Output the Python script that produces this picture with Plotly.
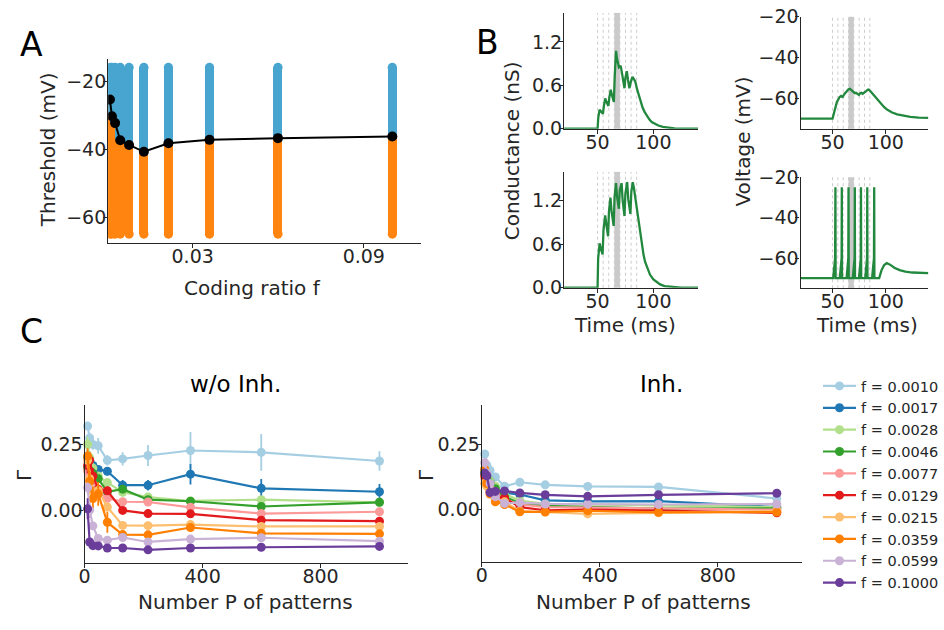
import plotly.graph_objects as go

W, H = 944, 630

# ---------------- Panel A data ----------------
f_values = [0.0010, 0.0017, 0.0028, 0.0046, 0.0077, 0.0129, 0.0215, 0.0359, 0.0599, 0.1000]
thresholds = [-25.4, -30.3, -32.3, -37.3, -38.7, -40.7, -38.2, -37.2, -36.7, -36.2]
scan_min = -64.8   # lowest tested threshold (mV)
scan_max = -16.0   # highest tested threshold (mV)

# ---------------- Panel B data ----------------
input_times = [50, 55, 60, 65, 70, 75, 80, 85]
shade_window = [65, 70]

t_g_sub = [20, 50, 50.6, 51.2, 51.8, 52.8, 53.8, 54.8, 55.5, 56.2, 56.8, 57.8, 58.8, 59.7,
           60.5, 61.2, 61.8, 62.8, 63.8, 64.6, 65.3, 65.9, 66.5, 67.4, 68.3, 69.1, 69.9, 70.6,
           71.3, 72.1, 73.1, 74.1, 74.9, 75.6, 76.2, 77.2, 78.5, 79.5, 80.5, 81.2, 82.4, 83.8,
           85.3, 86.8, 88.5, 90.3, 92.2, 94.1, 96.3, 98.5, 101.5, 104.4, 108.5, 113.2, 119, 125, 140]
g_sub = [0, 0, 0.15, 0.23, 0.262, 0.245, 0.222, 0.205, 0.30, 0.39, 0.418, 0.375, 0.34, 0.316,
         0.43, 0.51, 0.538, 0.47, 0.41, 0.37, 0.70, 0.98, 1.076, 0.97, 0.89, 0.849, 0.86, 0.871,
         0.82, 0.76, 0.65, 0.56, 0.70, 0.78, 0.796, 0.68, 0.56, 0.63, 0.69, 0.716, 0.69, 0.649,
         0.55, 0.462, 0.37, 0.293, 0.23, 0.182, 0.13, 0.093, 0.062, 0.044, 0.025, 0.013, 0.005, 0.001, 0]

t_g_sup = [20, 50, 50.5, 51.2, 51.8, 52.8, 53.8, 54.5, 55.3, 56.2, 56.8, 57.8, 58.8, 59.4,
           60.2, 60.9, 61.5, 62.5, 63.5, 64.4, 65.2, 65.9, 66.5, 67.5, 68.4, 69.1, 69.9, 70.9,
           71.5, 72.5, 73.4, 74.1, 74.9, 75.9, 76.5, 77.5, 78.6, 79.4, 80.2, 81.0, 81.5, 82.5,
           83.8, 85.2, 86.8, 88.2, 89.7, 91.2, 92.6, 94.8, 97, 100, 102.9, 106, 110, 118, 125, 140]
g_sup = [0, 0, 0.40, 0.58, 0.613, 0.55, 0.49, 0.458, 0.80, 0.97, 1.00, 0.88, 0.77, 0.711,
         1.05, 1.20, 1.244, 1.06, 0.93, 0.853, 1.25, 1.41, 1.444, 1.25, 1.13, 1.09, 1.35, 1.44,
         1.444, 1.20, 1.05, 0.99, 1.30, 1.44, 1.458, 1.22, 1.07, 1.02, 1.32, 1.45, 1.458, 1.38,
         1.244, 1.06, 0.889, 0.72, 0.578, 0.45, 0.356, 0.25, 0.178, 0.115, 0.076, 0.045, 0.022, 0.007, 0.002, 0]

t_v_sub = [20, 50, 51, 52.5, 54, 55.5, 56.5, 58, 59.5, 61, 63.2, 65, 66.3, 67.5, 68.4, 69.5,
           70.9, 72, 73, 74.8, 76, 77, 78.3, 79.4, 80.5, 81.6, 83, 84, 85, 86.2, 88.5, 90.8,
           93, 95.4, 98.5, 101.5, 106, 110.7, 116, 123, 131, 140]
v_sub = [-70, -70, -68, -64.4, -62, -60.5, -59.5, -58.9, -59.4, -58, -56.5, -55.6, -55.4, -56,
         -56.5, -57.2, -57.5, -57.3, -57.8, -58.4, -57.5, -57.3, -57.8, -57.5, -56.8, -56.5,
         -55.9, -55.7, -56.2, -56.9, -58.3, -59.7, -61.3, -62.8, -64.4, -65.7, -67, -67.9,
         -68.6, -69.2, -69.5, -69.7]

t_v_sup = [20, 50.6, 52.4, 52.7, 52.9, 56.8, 58.5, 58.7, 58.9, 63.2, 64.8, 65.0, 65.2,
           69.0, 70.7, 70.9, 71.1, 74.8, 76.5, 76.7, 76.9, 80.7, 82.4, 82.6, 82.8,
           87.1, 88.9, 89.1, 89.3, 93.8, 96, 98.5, 100.9, 104, 108, 113, 118.4, 125, 140]
v_sup = [-70, -70, -60, -25, -70, -70, -60, -25, -70, -70, -60, -25, -70,
         -70, -60, -25, -70, -70, -60, -25, -70, -70, -60, -25, -70,
         -70, -60, -25, -70, -70, -66, -63.5, -62.5, -63.3, -64.8, -66, -66.8, -67.2, -67.5]

# ---------------- Panel C data ----------------
P_values = [10, 17, 28, 46, 77, 129, 215, 359, 599, 1000]
legend_f = ["0.0010", "0.0017", "0.0028", "0.0046", "0.0077", "0.0129", "0.0215", "0.0359", "0.0599", "0.1000"]
colors_f = ["#a6cee3", "#1f78b4", "#b2df8a", "#33a02c", "#fb9a99",
            "#e31a1c", "#fdbf6f", "#ff7f00", "#cab2d6", "#6a3d9a"]

gamma_noinh_f0010 = [0.320, 0.275, 0.250, 0.245, 0.190, 0.195, 0.208, 0.227, 0.220, 0.187]
gamma_noinh_f0017 = [0.200, 0.190, 0.170, 0.155, 0.148, 0.095, 0.095, 0.137, 0.083, 0.070]
gamma_noinh_f0028 = [0.250, 0.200, 0.160, 0.130, 0.105, 0.068, 0.050, 0.035, 0.040, 0.030]
gamma_noinh_f0046 = [0.160, 0.150, 0.140, 0.120, 0.070, 0.080, 0.040, 0.034, 0.014, 0.030]
gamma_noinh_f0077 = [0.150, 0.130, 0.100, 0.070, 0.045, 0.032, 0.031, 0.011, -0.013, -0.006]
gamma_noinh_f0129 = [0.170, 0.190, 0.130, 0.080, 0.074, -0.001, -0.013, -0.014, -0.038, -0.042]
gamma_noinh_f0215 = [0.190, 0.120, 0.070, 0.075, 0.012, -0.058, -0.059, -0.055, -0.062, -0.062]
gamma_noinh_f0359 = [0.206, 0.110, 0.044, 0.062, -0.046, -0.093, -0.094, -0.066, -0.088, -0.090]
gamma_noinh_f0599 = [0.086, 0.000, -0.060, -0.108, -0.114, -0.104, -0.121, -0.110, -0.105, -0.118]
gamma_noinh_f1000 = [0.005, -0.121, -0.135, -0.136, -0.144, -0.144, -0.151, -0.144, -0.141, -0.138]

err_noinh_f0010 = [0.015, 0.020, 0.020, 0.030, 0.020, 0.025, 0.040, 0.070, 0.070, 0.037]
err_noinh_f0017 = [0.030, 0.030, 0.020, 0.015, 0.015, 0.020, 0.020, 0.039, 0.036, 0.030]
err_noinh_f0028 = [0.030, 0.025, 0.020, 0.015, 0.010, 0.010, 0.008, 0.006, 0.006, 0.005]
err_noinh_f0046 = [0.030, 0.025, 0.020, 0.015, 0.012, 0.012, 0.008, 0.006, 0.006, 0.005]
err_noinh_f0077 = [0.030, 0.025, 0.020, 0.015, 0.010, 0.010, 0.008, 0.006, 0.006, 0.005]
err_noinh_f0129 = [0.030, 0.030, 0.030, 0.020, 0.015, 0.010, 0.015, 0.008, 0.006, 0.005]
err_noinh_f0215 = [0.030, 0.030, 0.025, 0.020, 0.015, 0.010, 0.008, 0.006, 0.006, 0.005]
err_noinh_f0359 = [0.030, 0.040, 0.045, 0.045, 0.040, 0.012, 0.010, 0.010, 0.008, 0.006]
err_noinh_f0599 = [0.020, 0.030, 0.015, 0.010, 0.008, 0.008, 0.006, 0.006, 0.006, 0.005]
err_noinh_f1000 = [0.040, 0.010, 0.006, 0.006, 0.005, 0.005, 0.005, 0.005, 0.005, 0.005]

gamma_inh_f0010 = [0.213, 0.170, 0.150, 0.125, 0.090, 0.105, 0.095, 0.089, 0.087, 0.043]
gamma_inh_f0017 = [0.150, 0.130, 0.110, 0.070, 0.065, 0.058, 0.036, 0.032, 0.033, 0.010]
gamma_inh_f0028 = [0.150, 0.130, 0.110, 0.090, 0.060, 0.035, 0.022, 0.020, 0.014, 0.010]
gamma_inh_f0046 = [0.140, 0.120, 0.100, 0.080, 0.050, 0.025, 0.015, 0.010, 0.004, 0.005]
gamma_inh_f0077 = [0.120, 0.100, 0.080, 0.060, 0.040, 0.020, 0.010, 0.008, 0.005, 0.000]
gamma_inh_f0129 = [0.130, 0.100, 0.070, 0.050, 0.045, 0.010, -0.002, 0.000, -0.003, -0.012]
gamma_inh_f0215 = [0.100, 0.090, 0.070, 0.040, 0.030, -0.005, -0.010, -0.016, -0.012, -0.005]
gamma_inh_f0359 = [0.155, 0.100, 0.060, 0.030, 0.020, -0.008, -0.008, -0.004, -0.010, -0.009]
gamma_inh_f0599 = [0.180, 0.140, 0.100, 0.050, 0.024, 0.027, 0.022, 0.021, 0.020, 0.022]
gamma_inh_f1000 = [0.140, 0.130, 0.066, 0.070, 0.072, 0.064, 0.057, 0.051, 0.057, 0.063]

err_inh_f0010 = [0.010, 0.010, 0.010, 0.008, 0.006, 0.008, 0.006, 0.006, 0.015, 0.006]
err_inh_f0017 = [0.010, 0.010, 0.008, 0.006, 0.005, 0.005, 0.005, 0.004, 0.004, 0.004]
err_inh_f0028 = [0.010, 0.008, 0.008, 0.006, 0.005, 0.004, 0.004, 0.004, 0.004, 0.004]
err_inh_f0046 = [0.010, 0.008, 0.008, 0.006, 0.005, 0.004, 0.004, 0.004, 0.004, 0.004]
err_inh_f0077 = [0.010, 0.008, 0.008, 0.006, 0.005, 0.004, 0.004, 0.004, 0.004, 0.004]
err_inh_f0129 = [0.010, 0.010, 0.008, 0.006, 0.006, 0.005, 0.004, 0.004, 0.004, 0.004]
err_inh_f0215 = [0.010, 0.010, 0.008, 0.006, 0.005, 0.004, 0.004, 0.004, 0.004, 0.004]
err_inh_f0359 = [0.015, 0.010, 0.008, 0.006, 0.005, 0.004, 0.004, 0.004, 0.004, 0.004]
err_inh_f0599 = [0.015, 0.010, 0.008, 0.006, 0.005, 0.004, 0.004, 0.004, 0.004, 0.004]
err_inh_f1000 = [0.015, 0.010, 0.008, 0.006, 0.005, 0.004, 0.004, 0.004, 0.004, 0.004]

gamma_noinh = [gamma_noinh_f0010, gamma_noinh_f0017, gamma_noinh_f0028, gamma_noinh_f0046, gamma_noinh_f0077,
               gamma_noinh_f0129, gamma_noinh_f0215, gamma_noinh_f0359, gamma_noinh_f0599, gamma_noinh_f1000]
err_noinh = [err_noinh_f0010, err_noinh_f0017, err_noinh_f0028, err_noinh_f0046, err_noinh_f0077,
             err_noinh_f0129, err_noinh_f0215, err_noinh_f0359, err_noinh_f0599, err_noinh_f1000]
gamma_inh = [gamma_inh_f0010, gamma_inh_f0017, gamma_inh_f0028, gamma_inh_f0046, gamma_inh_f0077,
             gamma_inh_f0129, gamma_inh_f0215, gamma_inh_f0359, gamma_inh_f0599, gamma_inh_f1000]
err_inh = [err_inh_f0010, err_inh_f0017, err_inh_f0028, err_inh_f0046, err_inh_f0077,
           err_inh_f0129, err_inh_f0215, err_inh_f0359, err_inh_f0599, err_inh_f1000]

# ---------------- styling ----------------
FONT = "DejaVu Sans"
TXT = "#262626"
BLUE_A = "#47a5cf"
ORANGE_A = "#ff8410"
GREEN_B = "#22883e"


def dx(a, b):
    return [a / W, b / W]


def dy(top, bottom):
    return [1 - bottom / H, 1 - top / H]


fig = go.Figure()

# ----- Panel A -----
bar_w = 0.0032
fig.add_trace(go.Bar(x=f_values, y=[t - scan_min for t in thresholds], base=scan_min,
                     width=bar_w, marker=dict(color=ORANGE_A, line=dict(width=0)),
                     xaxis="x", yaxis="y", showlegend=False))
fig.add_trace(go.Bar(x=f_values, y=[scan_max - t for t in thresholds], base=thresholds,
                     width=bar_w, marker=dict(color=BLUE_A, line=dict(width=0)),
                     xaxis="x", yaxis="y", showlegend=False))
fig.add_trace(go.Scatter(x=f_values, y=[scan_max] * len(f_values), mode="markers",
                         marker=dict(color=BLUE_A, size=9.3, line=dict(width=0)),
                         xaxis="x", yaxis="y", showlegend=False))
fig.add_trace(go.Scatter(x=f_values, y=[scan_min] * len(f_values), mode="markers",
                         marker=dict(color=ORANGE_A, size=9.3, line=dict(width=0)),
                         xaxis="x", yaxis="y", showlegend=False))
fig.add_trace(go.Scatter(x=f_values, y=thresholds, mode="lines+markers",
                         line=dict(color="black", width=2),
                         marker=dict(color="black", size=10),
                         xaxis="x", yaxis="y", showlegend=False))

# ----- Panel B -----
b_traces = [(t_g_sub, g_sub, "x2", "y2"), (t_v_sub, v_sub, "x3", "y3"),
            (t_g_sup, g_sup, "x4", "y4"), (t_v_sup, v_sup, "x5", "y5")]
shapes = []
for tx, vy, xa, ya in b_traces:
    fig.add_trace(go.Scatter(x=tx, y=vy, mode="lines", line=dict(color=GREEN_B, width=2.3),
                             xaxis=xa, yaxis=ya, showlegend=False))
    shapes.append(dict(type="rect", xref=xa, yref=ya + " domain", x0=shade_window[0], x1=shade_window[1],
                       y0=0, y1=1, fillcolor="#c4c4c4", line=dict(width=0), opacity=0.9, layer="below"))
    for t in input_times:
        shapes.append(dict(type="line", xref=xa, yref=ya + " domain", x0=t, x1=t, y0=0, y1=1,
                           line=dict(color="#cccccc", width=1, dash="dot"), layer="below"))

# ----- Panel C -----
for i in range(len(legend_f)):
    c = colors_f[i]
    fig.add_trace(go.Scatter(x=P_values, y=gamma_noinh[i], mode="lines+markers",
                             name="f = " + legend_f[i], legendgroup=legend_f[i],
                             line=dict(color=c, width=2.2), marker=dict(color=c, size=9),
                             error_y=dict(type="data", array=err_noinh[i], color=c, thickness=1.8, width=0),
                             cliponaxis=False, xaxis="x6", yaxis="y6", showlegend=True))
for i in range(len(legend_f)):
    c = colors_f[i]
    fig.add_trace(go.Scatter(x=P_values, y=gamma_inh[i], mode="lines+markers",
                             name="f = " + legend_f[i], legendgroup=legend_f[i],
                             line=dict(color=c, width=2.2), marker=dict(color=c, size=9),
                             error_y=dict(type="data", array=err_inh[i], color=c, thickness=1.8, width=0),
                             cliponaxis=False, xaxis="x7", yaxis="y7", showlegend=False))

axis_common = dict(showline=True, linecolor=TXT, linewidth=1.3, ticks="outside", ticklen=4,
                   tickwidth=1.3, tickcolor=TXT, showgrid=False, zeroline=False,
                   tickfont=dict(family=FONT, size=19, color=TXT))
xaxis_common = dict(axis_common, ticklabelstandoff=-8)
yaxis_common = dict(axis_common, ticklabelstandoff=-7)

layout = dict(
    width=W, height=H, margin=dict(l=0, r=0, t=0, b=0),
    paper_bgcolor="white", plot_bgcolor="white", barmode="overlay", bargap=0,
    font=dict(family=FONT, color=TXT),
    shapes=shapes,
    legend=dict(x=826 / W, y=1 - 372 / H, xanchor="left", yanchor="top",
                font=dict(family=FONT, size=14.5, color=TXT), bgcolor="rgba(0,0,0,0)",
                tracegroupgap=0, itemwidth=33),
)

# A axes
layout["xaxis"] = dict(xaxis_common, domain=dx(104, 422), range=[0.0004, 0.11],
                       tickvals=[0.03, 0.09], ticktext=["0.03", "0.09"], anchor="y")
layout["yaxis"] = dict(yaxis_common, domain=dy(50, 240), range=[-67.3, -13.6],
                       tickvals=[-20, -40, -60], anchor="x")
# B axes
layout["xaxis2"] = dict(xaxis_common, domain=dx(567.7, 704), range=[20, 140], tickvals=[50, 100], anchor="y2")
layout["yaxis2"] = dict(yaxis_common, domain=dy(2, 122), range=[0, 1.6], tickvals=[0, 0.6, 1.2],
                        tickformat=".1f", anchor="x2")
layout["xaxis3"] = dict(xaxis_common, domain=dx(808.3, 938.3), range=[20, 140], tickvals=[50, 100], anchor="y3")
layout["yaxis3"] = dict(yaxis_common, domain=dy(6, 122), range=[-75, -20], tickvals=[-20, -40, -60], anchor="x3")
layout["xaxis4"] = dict(xaxis_common, domain=dx(567.7, 704), range=[20, 140], tickvals=[50, 100], anchor="y4")
layout["yaxis4"] = dict(yaxis_common, domain=dy(166.7, 286.7), range=[0, 1.6], tickvals=[0, 0.6, 1.2],
                        tickformat=".1f", anchor="x4")
layout["xaxis5"] = dict(xaxis_common, domain=dx(808.3, 938.3), range=[20, 140], tickvals=[50, 100], anchor="y5")
layout["yaxis5"] = dict(yaxis_common, domain=dy(172.3, 287.3), range=[-75, -20], tickvals=[-20, -40, -60], anchor="x5")
# C axes
layout["xaxis6"] = dict(xaxis_common, domain=dx(80, 409.3), range=[0, 1098], tickvals=[0, 400, 800], anchor="y6")
layout["yaxis6"] = dict(yaxis_common, domain=dy(408.3, 571.7), range=[-0.2, 0.4], tickvals=[0, 0.25],
                        tickformat=".2f", anchor="x6")
layout["xaxis7"] = dict(xaxis_common, domain=dx(484, 809.3), range=[0, 1084], tickvals=[0, 400, 800], anchor="y7")
layout["yaxis7"] = dict(yaxis_common, domain=dy(408.3, 571), range=[-0.2, 0.4], tickvals=[0, 0.25],
                        tickformat=".2f", anchor="x7")


def ann(text, x, y, size, angle=0, color=TXT):
    return dict(text=text, x=x / W, y=1 - y / H, xref="paper", yref="paper", showarrow=False,
                xanchor="center", yanchor="middle", textangle=angle,
                font=dict(family=FONT, size=size, color=color))


layout["annotations"] = [
    ann("A", 26, 35, 33, color="black"),
    ann("B", 489.5, 33, 33, color="black"),
    ann("C", 26, 332, 33, color="black"),
    ann("Threshold (mV)", 43, 144, 20, angle=-90),
    ann("Coding ratio f", 250.5, 287, 20),
    ann("Conductance (nS)", 515, 145, 20, angle=-90),
    ann("Voltage (mV)", 750, 135, 20, angle=-90),
    ann("Time (ms)", 630, 325, 20),
    ann("Time (ms)", 876, 325, 20),
    ann("w/o Inh.", 233, 387, 23, color="black"),
    ann("Inh.", 667, 387, 23, color="black"),
    ann("Γ", 19, 481, 20, angle=-90),
    ann("Γ", 427, 481, 20, angle=-90),
    ann("Number P of patterns", 243.3, 612, 20),
    ann("Number P of patterns", 648, 612, 20),
]

fig.update_layout(**layout)
fig.write_html("out.html")
